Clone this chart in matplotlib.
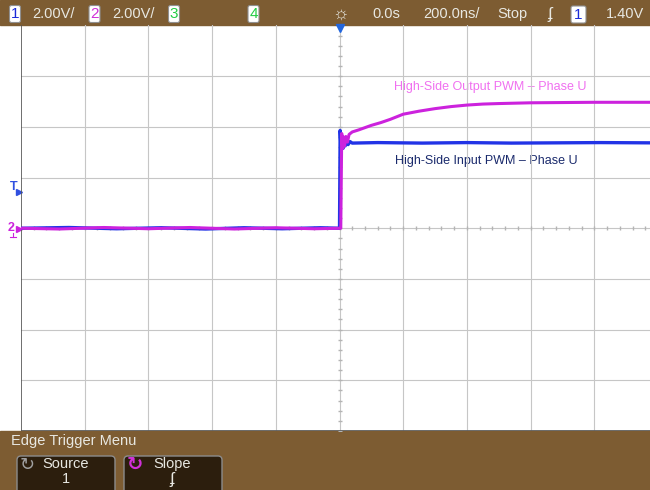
import matplotlib.pyplot as plt
from matplotlib.patches import FancyBboxPatch, Rectangle
import numpy as np

plt.rcParams['font.family'] = ['Liberation Sans', 'DejaVu Sans']

# scope settings
ns_per_div = 200.0
volts_per_div = 2.0
trig_level = 1.40

# channel 1 (blue): high-side input PWM, time in ns, voltage in V
ch1_t = [-1000, -850, -700, -560, -420, -300, -180, -60, 0, 2, 5, 8, 11, 14, 18, 22, 27, 33, 40,
         120, 260, 400, 540, 680, 820, 975]
ch1_v = [0.0, 0.03, -0.02, 0.02, -0.03, 0.02, -0.02, 0.02, 0.0, 3.86, 3.1, 3.62, 3.15, 3.5, 3.25, 3.45, 3.3, 3.42, 3.36,
         3.38, 3.36, 3.38, 3.36, 3.37, 3.38, 3.37]

# channel 2 (magenta): high-side output PWM
ch2_t = [-1000, -880, -740, -600, -470, -330, -200, -80, 4, 7, 10, 13, 16, 20, 25, 30, 40, 60, 80, 100,
         130, 160, 200, 250, 300, 350, 400, 450, 500, 600, 700, 800, 975]
ch2_v = [0.0, -0.03, 0.03, -0.02, 0.03, -0.03, 0.02, -0.02, 0.0, 3.74, 3.15, 3.6, 3.25, 3.62, 3.4, 3.7, 3.8, 3.88, 3.97, 4.06,
         4.17, 4.3, 4.5, 4.62, 4.72, 4.8, 4.86, 4.9, 4.92, 4.95, 4.96, 4.97, 4.97]

W, H = 650, 490
BROWN = '#7d5c32'
TXT = '#e8e8e2'
BLUE = '#2233e6'
MAG = '#cc22dd'

fig = plt.figure(figsize=(6.5, 4.9), dpi=100)

# background layer in pixel coordinates
bg = fig.add_axes([0, 0, 1, 1])
bg.set_xlim(0, W)
bg.set_ylim(H, 0)
bg.axis('off')
bg.add_patch(Rectangle((0, 0), W, 25.5, color=BROWN))
bg.add_patch(Rectangle((0, 431), W, 59, color=BROWN))


def chan_box(x, y, w, h, label, color):
    bg.add_patch(FancyBboxPatch((x, y), w, h, boxstyle='round,pad=0,rounding_size=2',
                                facecolor='white', edgecolor='#909090', lw=0.8))
    bg.text(x + w / 2, y + h / 2 + 0.5, label, color=color, fontsize=11, ha='center', va='center')


# top status bar
chan_box(9.5, 5.5, 11, 17, '1', '#1a2ad8')
bg.text(32, 14, '2.00V/', color=TXT, fontsize=10.5, va='center')
chan_box(89, 5.5, 11, 17, '2', '#d030d8')
bg.text(112, 14, '2.00V/', color=TXT, fontsize=10.5, va='center')
chan_box(168.5, 5.5, 11, 17, '3', '#22cc44')
chan_box(248, 5.5, 11, 17, '4', '#22cc44')
bg.text(340, 14, '☼', color=TXT, fontsize=13, ha='center', va='center')
bg.text(372, 14, '0.0s', color=TXT, fontsize=10.5, va='center')
bg.text(423, 14, '200.0ns/', color=TXT, fontsize=10.5, va='center')
bg.text(497, 14, 'Stop', color=TXT, fontsize=10.5, va='center')
bg.text(550, 14, 'ʄ', color=TXT, fontsize=12, ha='center', va='center')
chan_box(571, 6, 15, 17, '1', '#1a2ad8')
bg.text(606, 14, f'{trig_level:.2f}V', color=TXT, fontsize=10.5, va='center')

# bottom softkey menu
bg.text(11, 441, 'Edge Trigger Menu', color=TXT, fontsize=10.5, va='center')
for x0 in (17, 124):
    bg.add_patch(FancyBboxPatch((x0, 456), 98, 40, boxstyle='round,pad=0,rounding_size=4',
                                facecolor='#2c1e0d', edgecolor='#8c8c8c', lw=1))
bg.text(27, 465, '↻', color='#a0a0a0', fontsize=13, ha='center', va='center')
bg.text(66, 464, 'Source', color=TXT, fontsize=10.5, ha='center', va='center')
bg.text(66, 479, '1', color=TXT, fontsize=10.5, ha='center', va='center')
bg.text(135, 465, '↻', color='#d030d8', fontsize=14, ha='center', va='center', fontweight='bold')
bg.text(172, 464, 'Slope', color=TXT, fontsize=10.5, ha='center', va='center')
bg.text(172, 479, 'ʄ', color=TXT, fontsize=12, ha='center', va='center')

# left-side markers
bg.text(14, 187, 'T', color='#3050e0', fontsize=9, ha='center', va='center', fontweight='bold')
bg.plot(19, 192, marker='>', color='#3050e0', markersize=4.5)
bg.text(11, 228, '2', color=MAG, fontsize=9, ha='center', va='center', fontweight='bold')
bg.plot(18.5, 228.5, marker='>', color=MAG, markersize=4.5)
bg.plot([13, 13], [233, 237], color=MAG, lw=0.8)
bg.plot([10, 16], [237, 237], color=MAG, lw=0.8)

# graticule
left = 21 / W
bottom = (H - 431) / H
ax = fig.add_axes([left, bottom, 1 - left, (431 - 25.5) / H])
ax.patch.set_visible(False)
x_right = -5 * ns_per_div + (W - 21) / 63.7 * ns_per_div
ax.set_xlim(-5 * ns_per_div, x_right)
ax.set_ylim(-4 * volts_per_div, 4 * volts_per_div)
for s in ax.spines.values():
    s.set_visible(False)
ax.set_xticks([])
ax.set_yticks([])

for i in range(-4, 5):
    ax.axvline(i * ns_per_div, color='#c6c6c6', lw=0.8, zorder=1)
for j in range(-3, 4):
    ax.axhline(j * volts_per_div, color='#c6c6c6', lw=0.8, zorder=1)
ax.axvline(-5 * ns_per_div, color='#555555', lw=1.2, zorder=2)
ax.axhline(-4 * volts_per_div, color='#555555', lw=1.2, zorder=2)

# minor ticks on centre axes
tx = np.arange(-5 * ns_per_div, x_right, ns_per_div / 5)
ax.plot(tx, np.zeros_like(tx), ls='none', marker='|', color='#b4b4b4', markersize=3.5, zorder=1)
ty = np.arange(-4 * volts_per_div, 4 * volts_per_div + 0.01, volts_per_div / 5)
ax.plot(np.zeros_like(ty), ty, ls='none', marker='_', color='#b4b4b4', markersize=3.5, zorder=1)

# traces
ax.plot(ch1_t, ch1_v, color=BLUE, lw=2.4, zorder=3)
ax.plot(ch2_t, ch2_v, color=MAG, lw=2.2, zorder=4)

# trigger position marker
ax.plot(0, 4 * volts_per_div - 0.1, marker='v', color='#2266dd', markersize=6, clip_on=False, zorder=6)

# trace labels
bg.text(490, 87, 'High-Side Output PWM – Phase U', color='#f070f0', fontsize=9, ha='center', va='center')
bg.text(486, 161, 'High-Side Input PWM – Phase U', color='#1a2a6c', fontsize=9, ha='center', va='center')

plt.savefig('out.png', dpi=100)
